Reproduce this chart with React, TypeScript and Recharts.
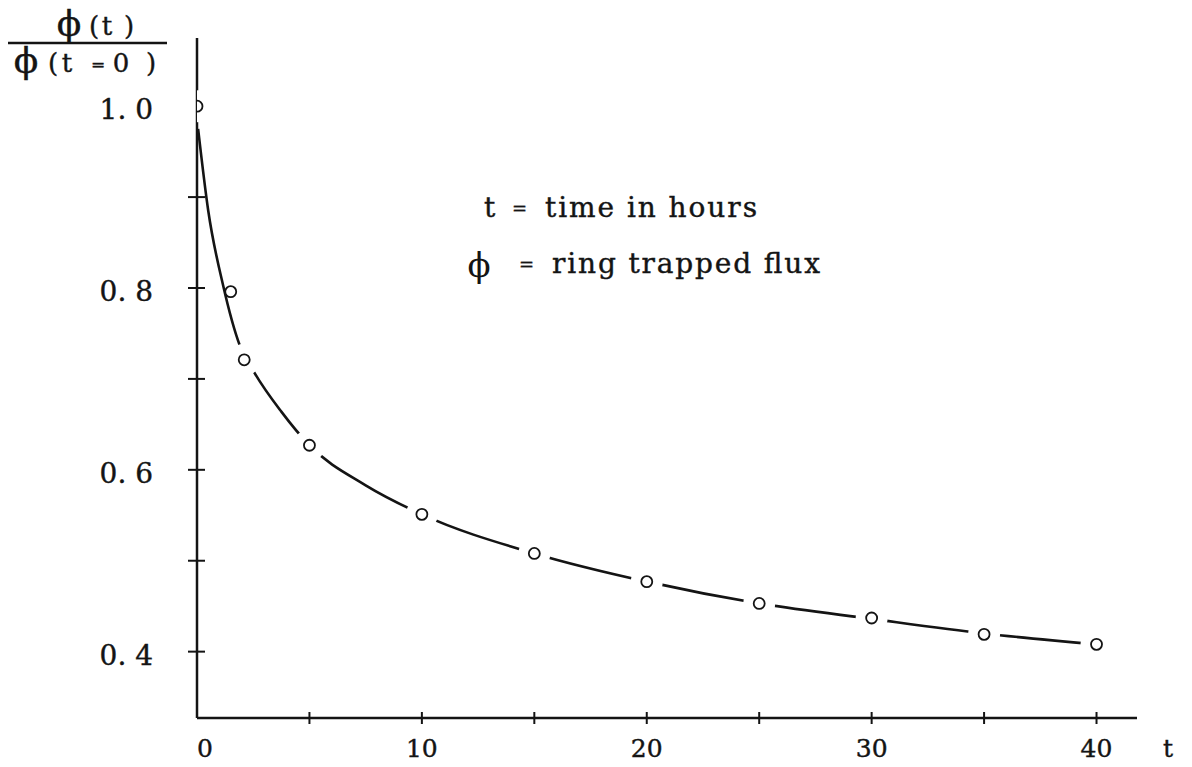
import React from 'react';
import { ComposedChart, Line, XAxis, YAxis } from 'recharts';

// measured points (t in hours, normalised trapped flux)
const tPoints = [0, 1.5, 2.1, 5, 10, 15, 20, 25, 30, 35, 40];
const fluxPoints = [1.0, 0.796, 0.721, 0.627, 0.551, 0.508, 0.477, 0.453, 0.437, 0.419, 0.408];

// hand-drawn fitted curve
const tCurve = [0.05, 0.5, 1.16, 1.9, 2.55, 3.75, 5, 7.5, 10, 15, 20, 25, 30, 35, 40];
const fluxCurve = [0.975, 0.885, 0.803, 0.737, 0.707, 0.664, 0.627, 0.583, 0.551, 0.508, 0.477, 0.453, 0.436, 0.42, 0.408];

const xTicks = [0, 5, 10, 15, 20, 25, 30, 35, 40];
const xLabels = ['0', '10', '20', '30', '40'];
const yTicks = [0.4, 0.5, 0.6, 0.7, 0.8, 0.9, 1.0];
const yLabels = ['0. 4', '0. 6', '0. 8', '1. 0'];

const INK = '#141414';
const FONT = '"DejaVu Serif", "Liberation Serif", serif';

const points = tPoints.map((t, i) => ({ t, v: fluxPoints[i] }));
const curve = tCurve.map((t, i) => ({ t, v: fluxCurve[i] }));

function XTick(props: any) {
  const { x, y, payload } = props;
  const label = xLabels.find((l) => Number(l) === payload.value);
  return (
    <g>
      {payload.value !== 0 && <line x1={x} x2={x} y1={y - 6} y2={y + 6} stroke={INK} strokeWidth={2} />}
      {label && (
        <text x={x + (payload.value === 0 ? 8 : 0)} y={y + 39} textAnchor="middle" fontFamily={FONT} fontSize={25} fill={INK} stroke={INK} strokeWidth={0.4}>
          {label}
        </text>
      )}
    </g>
  );
}

function YTick(props: any) {
  const { x, y, payload } = props;
  const label = yLabels.find((l) => Number(l.replace(' ', '')) === payload.value);
  return (
    <g>
      {payload.value < 1 && <line x1={x - 9} x2={x + 8} y1={y} y2={y} stroke={INK} strokeWidth={2} />}
      {label && (
        <text x={x - 44} y={y + 13} textAnchor="end" fontFamily={FONT} fontSize={28} fill={INK} stroke={INK} strokeWidth={0.4}>
          {label}
        </text>
      )}
    </g>
  );
}

function Ring(props: any) {
  const { cx, cy, payload } = props;
  if (cx == null || cy == null) return null;
  // the drawn line stops short of each circle, except where it grazes the 0.8 point
  const halo = payload && payload.t === 1.5 ? 0 : 16;
  return (
    <g key={`ring-${payload ? payload.t : cx}`}>
      {halo > 0 && <circle cx={cx} cy={cy} r={halo} fill="#fff" />}
      <circle cx={cx} cy={cy} r={5.5} fill="#fff" stroke={INK} strokeWidth={1.8} />
    </g>
  );
}

export default function App() {
  return (
    <div style={{ position: 'absolute', left: 0, top: 0, width: 1192, height: 767, background: '#fff' }}>
      <ComposedChart width={1192} height={767} margin={{ top: 38, right: 55, bottom: 9, left: 137 }}>
        <XAxis
          type="number"
          dataKey="t"
          domain={[0, 41.8]}
          ticks={xTicks}
          interval={0}
          height={40}
          tickSize={0}
          tickMargin={0}
          tickLine={false}
          axisLine={{ stroke: INK, strokeWidth: 2.5 }}
          tick={<XTick />}
          allowDataOverflow
        />
        <YAxis
          type="number"
          dataKey="v"
          domain={[0.327, 1.075]}
          ticks={yTicks}
          interval={0}
          width={60}
          tickSize={0}
          tickMargin={0}
          tickLine={false}
          axisLine={{ stroke: INK, strokeWidth: 2.5 }}
          tick={<YTick />}
          allowDataOverflow
        />
        <Line
          data={curve}
          dataKey="v"
          type="monotone"
          stroke={INK}
          strokeWidth={2.6}
          dot={false}
          activeDot={false}
          isAnimationActive={false}
        />
        <Line
          data={points}
          dataKey="v"
          stroke="none"
          dot={(p: any) => <Ring {...p} />}
          activeDot={false}
          isAnimationActive={false}
          {...({ zIndex: 1000 } as any)}
        />
      </ComposedChart>

      <svg width={1192} height={767} style={{ position: 'absolute', left: 0, top: 0, pointerEvents: 'none' }}>
        <g fontFamily={FONT} fill={INK} stroke={INK} strokeWidth={0.4}>
          {/* numerator */}
          <text x={69} y={36} textAnchor="middle" fontSize={36}>ϕ</text>
          <text x={94} y={35} textAnchor="middle" fontSize={26}>(</text>
          <text x={107} y={35} textAnchor="middle" fontSize={26}>t</text>
          <text x={129} y={35} textAnchor="middle" fontSize={26}>)</text>
          <line x1={8} x2={167} y1={43} y2={43} stroke={INK} strokeWidth={2.5} />
          {/* denominator */}
          <text x={26} y={73} textAnchor="middle" fontSize={36}>ϕ</text>
          <text x={53} y={72} textAnchor="middle" fontSize={26}>(</text>
          <text x={67} y={72} textAnchor="middle" fontSize={26}>t</text>
          <text x={98} y={70} textAnchor="middle" fontSize={17}>=</text>
          <text x={121} y={72} textAnchor="middle" fontSize={26}>0</text>
          <text x={151} y={72} textAnchor="middle" fontSize={26}>)</text>

          <text x={484} y={217} fontSize={28}>t</text>
          <text x={512} y={215} fontSize={18}>=</text>
          <text x={545} y={217} fontSize={28} textLength={212} lengthAdjust="spacing">time in hours</text>

          <text x={479} y={277} textAnchor="middle" fontSize={34} strokeWidth={0}>ϕ</text>
          <text x={519} y={271} fontSize={18}>=</text>
          <text x={552} y={273} fontSize={28} textLength={268} lengthAdjust="spacing">ring trapped flux</text>

          <text x={1168} y={757} textAnchor="middle" fontSize={25}>t</text>
        </g>
      </svg>
    </div>
  );
}
